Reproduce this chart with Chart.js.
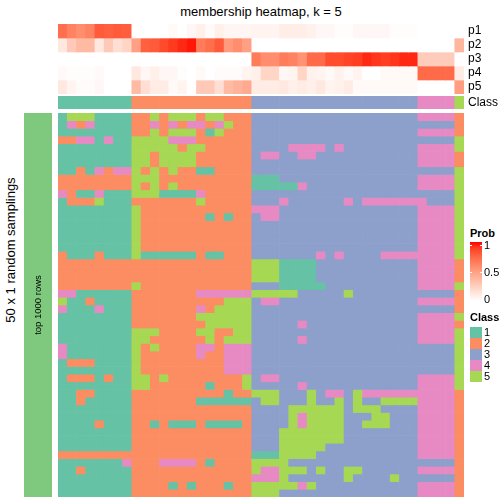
<!DOCTYPE html>
<html><head><meta charset="utf-8">
<script src="https://cdn.jsdelivr.net/npm/chart.js@4"></script>
<style>
html,body{margin:0;padding:0;background:#fff;}
body{width:504px;height:504px;position:relative;overflow:hidden;font-family:"Liberation Sans",Arial,Helvetica,sans-serif;color:#000;}
.abs{position:absolute;}
canvas{position:absolute;display:block;}
.vt{position:absolute;text-align:center;white-space:nowrap;transform:rotate(-90deg);transform-origin:50% 50%;}
.lg{position:absolute;font-size:11px;line-height:13px;white-space:nowrap;}
</style></head><body>

<div class="abs" style="left:61px;width:400px;top:4px;text-align:center;font-size:13px;line-height:15px;">membership heatmap, k = 5</div>
<div class="vt" style="left:-89px;top:242px;width:200px;height:16px;line-height:16px;font-size:13px;">50 x 1 random samplings</div>

<canvas id="probChart" width="446" height="70" style="left:58px;top:24px"></canvas>
<canvas id="classChart" width="446" height="13" style="left:58px;top:96px"></canvas>
<canvas id="sliceChart" width="28" height="384" style="left:24px;top:113px"></canvas>
<div class="vt" style="left:-12px;top:297px;width:100px;height:16px;line-height:16px;font-size:9.5px;">top 1000 rows</div>
<canvas id="mainChart" width="406" height="384" style="left:58px;top:113px"></canvas>

<div id="legend"></div>

<script>
// ---------------- data ----------------
const rowNames = ["p1", "p2", "p3", "p4", "p5"];
const classNames = ["1", "2", "3", "4", "5"];
const classColors = ["#66C2A5", "#FC8D62", "#8DA0CB", "#E78AC3", "#A6D854"];
const probTicks = [1, 0.5, 0];

// consensus class of each of the 44 samples (columns)
const sampleClass = "11111111 2222222222222 333333333333333333 4444 5";

// membership probabilities per class (44 samples each)
const p1 = [0.72,0.63,0.58,0.63,0.80,0.78,0.80,0.79,
            0,0,0,0,0.03,0,0.04,0.08,0.02,0.08,0.05,0.05,0.05,
            0.06,0.06,0.06,0.09,0.09,0.09,0.07,0.04,0.04,0.01,0.01,0.04,0.04,0.04,0.04,0.01,0.01,0.01,
            0,0,0,0, 0];
const p2 = [0.12,0.28,0.36,0.36,0.12,0.28,0.17,0.22,
            0.49,0.78,0.80,0.86,0.91,0.95,0.98,0.66,0.72,0.80,0.52,0.58,0.49,
            0,0,0,0,0,0,0,0,0,0,0,0,0,0,0,0,0,0,
            0,0,0,0, 0.38];
const p3 = [0,0,0,0,0,0,0,0,
            0,0,0,0,0,0,0,0,0,0,0,0,0,
            0.66,0.58,0.58,0.66,0.63,0.55,0.74,0.74,0.85,0.85,0.88,0.90,0.95,0.92,0.90,0.92,0.95,0.95,
            0.27,0.27,0.27,0.27, 0];
const p4 = [0.03,0.01,0.01,0.01,0.03,0,0,0,
            0.12,0.04,0.08,0.04,0.04,0.01,0,0.03,0,0.02,0.02,0.02,0.06,
            0.08,0.22,0.22,0.04,0.06,0.22,0.07,0.06,0.03,0.07,0.03,0.06,0,0,0.03,0.03,0.03,0.03,
            0.74,0.74,0.74,0.74, 0.10];
const p5 = [0.12,0.06,0.02,0.02,0.04,0,0,0,
            0.36,0.17,0.10,0.10,0.03,0.06,0,0.28,0.28,0.17,0.36,0.40,0.44,
            0.10,0.10,0.10,0.12,0.08,0.10,0.08,0.12,0.06,0.07,0.10,0.03,0.03,0.03,0.03,0.03,0.03,0.03,
            0,0,0,0, 0.50];

// class assigned in each of the 50 random samplings (rows) for the 44 samples
const samplings = [
"15551111 2252555255222 333333333333333333 4444 2",
"14241111 2242424424522 333333333333333333 3333 2",
"11111111 2252555215222 333333333333333333 4444 2",
"22441411 5555444222222 333333333333333333 3333 5",
"11111111 5555525522222 333344443433333333 4444 5",
"11111111 5525555222222 344334433333333333 4444 2",
"11111111 5525555222222 333333333333333333 4444 2",
"11214244 5252522112222 333333333333333333 3333 5",
"22222222 5552222222222 111333333333333333 4444 5",
"22222222 5252522222222 111114333333333333 4444 5",
"42114111 5551111422222 333333333333333333 3333 5",
"12225111 2222222522222 333433333343444444 4333 5",
"11111111 5222222222222 444333333333333333 4444 5",
"11111111 5222222212122 344333333333333333 4444 5",
"11111111 5222222222222 333333333333333333 4444 5",
"11111111 5222222222222 333333333333333333 4444 5",
"11111111 5222222222222 333333333333333333 4444 5",
"11111111 5222222222222 333333333333333333 4444 5",
"21112111 5111111211222 333333343433334444 4444 5",
"22222222 2222222222222 555111133333333333 4444 2",
"22222222 2222222222222 555111133333333333 4444 2",
"22222222 2222222222222 555111133333333333 4444 2",
"22222222 5222222222222 333111113333333333 4444 5",
"44111111 2222222444444 555553333353333333 3333 2",
"51121111 2222222222555 344333333333333333 4444 2",
"41114111 2222222425555 333333333333333333 3333 2",
"11111111 2222222555555 333333333333333333 4444 5",
"11111111 2222222255555 333334333333333333 4444 2",
"11111111 5552222552255 333333333333333333 4444 5",
"11111111 5522222252555 333334333333333333 4444 5",
"41111111 5252222442444 333333333333333333 3333 5",
"41111111 5222222422444 333333333333333333 3333 5",
"12221111 5222222222444 333333333333333333 3333 5",
"11111111 5222222222444 333333333333333333 3333 5",
"12221211 5525222222225 344333333333333333 4444 5",
"11111111 5522222212225 333334333333333333 4444 5",
"11221111 2222222222122 555333534435444444 4444 2",
"11211111 2222222111111 355333533535335555 4444 2",
"11111111 2222222222222 333355555535553333 4444 2",
"11111111 2222222222222 333354555533355333 4444 2",
"11112111 2212111211112 333354555533555333 4444 2",
"11111111 2222222222222 333555555533333333 4444 2",
"11111111 2222222222222 333555555533333333 4444 2",
"11111111 2222222222222 333555553333333333 4444 2",
"22222222 2222222222222 111555533333333333 4444 2",
"11111114 2224444212222 555533333333333333 3333 2",
"11211111 2222222222222 544555353355333333 4444 2",
"11111111 2222222222222 444533333353333533 3333 2",
"11111111 2222121222122 555554533333333333 4444 2",
"11111111 2222222222222 555333333333333333 4444 2"
];
const sliceColor = "#7FC97F";

// ---------------- helpers ----------------
const parseRow = s => s.replace(/\s+/g, "").split("").map(Number);
function toLin(c){c/=255;return c<=0.04045?c/12.92:Math.pow((c+0.055)/1.055,2.4);}
function toS(v){v=Math.max(0,Math.min(1,v));v=v<=0.0031308?12.92*v:1.055*Math.pow(v,1/2.4)-0.055;return Math.round(v*255);}
const Xn=0.95047,Yn=1,Zn=1.08883;
function fl(t){return t>0.008856?Math.cbrt(t):7.787*t+16/116;}
function finv(t){return t>0.206893?t*t*t:(t-16/116)/7.787;}
function rgb2lab(c){const r=toLin(c[0]),g=toLin(c[1]),b=toLin(c[2]);
  const X=0.4124*r+0.3576*g+0.1805*b,Y=0.2126*r+0.7152*g+0.0722*b,Z=0.0193*r+0.1192*g+0.9505*b;
  const fx=fl(X/Xn),fy=fl(Y/Yn),fz=fl(Z/Zn);return [116*fy-16,500*(fx-fy),200*(fy-fz)];}
function lab2rgb(l){const fy=(l[0]+16)/116,fx=fy+l[1]/500,fz=fy-l[2]/200;
  const X=Xn*finv(fx),Y=Yn*finv(fy),Z=Zn*finv(fz);
  const r=3.2406*X-1.5372*Y-0.4986*Z,g=-0.9689*X+1.8758*Y+0.0415*Z,b=0.0557*X-0.2040*Y+1.0570*Z;
  return "rgb("+toS(r)+","+toS(g)+","+toS(b)+")";}
const LW=rgb2lab([255,255,255]), LR=rgb2lab([255,0,0]);
function probColor(p){return lab2rgb([0,1,2].map(i=>LW[i]+(LR[i]-LW[i])*p));}
const clsColor = c => classColors[c-1];

const FONT = '"Liberation Sans", Arial, Helvetica, sans-serif';
Chart.defaults.font.family = FONT;

const colClasses = parseRow(sampleClass);
const colLabels = colClasses.map((_, i) => "S" + (i + 1));

// draws row names to the right of the plot area, positioned by the y scale
const rowLabelPlugin = {
  id: "rowLabels",
  afterDraw(chart, args, opts) {
    if (!opts || !opts.labels) return;
    const { ctx, chartArea, scales } = chart;
    ctx.save();
    ctx.font = "12px " + FONT;
    ctx.fillStyle = "#000";
    ctx.textAlign = "left";
    ctx.textBaseline = "middle";
    opts.labels.forEach((t, i) => ctx.fillText(t, chartArea.right + 4, scales.y.getPixelForValue(i + 0.5)));
    ctx.restore();
  }
};

// generic heatmap built from floating bars: one dataset per row
function heatmap(id, colorRows, rowLabels) {
  const n = colorRows.length;
  const datasets = colorRows.map((cols, r) => ({
    data: cols.map(() => [r, r + 1]),
    backgroundColor: cols,
    borderWidth: 0,
    barPercentage: 1,
    categoryPercentage: 1,
    grouped: false
  }));
  return new Chart(document.getElementById(id), {
    type: "bar",
    data: { labels: colLabels.slice(0, colorRows[0].length), datasets },
    plugins: [rowLabelPlugin],
    options: {
      responsive: false, animation: false, events: [],
      layout: { padding: { left: 0, top: 0, bottom: 0, right: rowLabels ? 40 : 0 } },
      plugins: { legend: { display: false }, tooltip: { enabled: false }, title: { display: false },
                 rowLabels: { labels: rowLabels } },
      scales: {
        x: { type: "category", display: false, offset: true },
        y: { type: "linear", min: 0, max: n, reverse: true, display: false }
      }
    }
  });
}

// top annotation: membership probabilities
heatmap("probChart", [p1, p2, p3, p4, p5].map(a => a.map(probColor)), rowNames);
// class annotation
heatmap("classChart", [colClasses.map(clsColor)], ["Class"]);
// main body: classes in each random sampling
heatmap("mainChart", samplings.map(s => parseRow(s).map(clsColor)), null);
// row slice annotation
new Chart(document.getElementById("sliceChart"), {
  type: "bar",
  data: { labels: ["top 1000 rows"], datasets: [{ data: [[0, 1]], backgroundColor: sliceColor,
    borderWidth: 0, barPercentage: 1, categoryPercentage: 1 }] },
  options: { responsive: false, animation: false, events: [], layout: { padding: 0 },
    plugins: { legend: { display: false }, tooltip: { enabled: false } },
    scales: { x: { display: false }, y: { min: 0, max: 1, display: false } } }
});

// ---------------- legends ----------------
const lg = document.getElementById("legend");
function add(html, style) { const d = document.createElement("div"); d.className = "lg"; d.innerHTML = html; Object.assign(d.style, style); lg.appendChild(d); return d; }
add("<b>Prob</b>", { left: "470px", top: "227px" });
const stops = []; for (let k = 0; k <= 10; k++) stops.push(probColor(1 - k / 10) + " " + (k * 10) + "%");
add("", { left: "470px", top: "242px", width: "12px", height: "59px", background: "linear-gradient(to bottom," + stops.join(",") + ")" });
const gTop = 245, gBot = 299;
probTicks.forEach(v => {
  const y = gBot - (gBot - gTop) * v;
  add(String(v), { left: "484px", top: (y - 6.5) + "px" });
  if (v > 0) {
    add("", { left: "470px", top: Math.round(y) + "px", width: "2px", height: "1px", background: "#fff" });
    add("", { left: "480px", top: Math.round(y) + "px", width: "2px", height: "1px", background: "#fff" });
  }
});
add("<b>Class</b>", { left: "470px", top: "311px" });
classNames.forEach((c, i) => {
  const top = 327 + i * 11;
  add("", { left: "470px", top: top + "px", width: "12px", height: "11px", background: classColors[i] });
  add(c, { left: "484px", top: (top - 1) + "px" });
});
</script>
</body></html>
